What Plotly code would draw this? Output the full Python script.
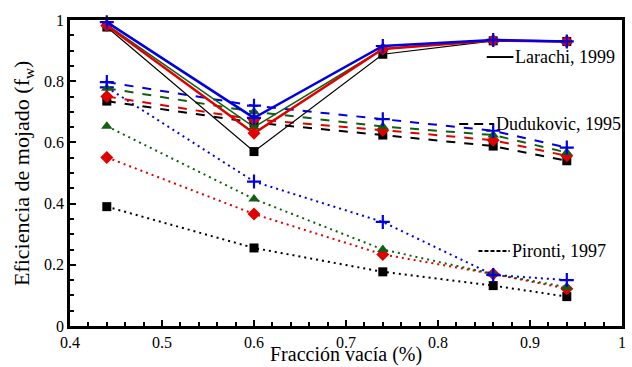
import plotly.graph_objects as go

x_vals = [0.44, 0.6, 0.74, 0.86, 0.94]

# Larachi, 1999 (solid)
lar_black = [0.977, 0.57, 0.888, 0.932, 0.93]
lar_red = [0.982, 0.63, 0.905, 0.933, 0.93]
lar_green = [0.985, 0.65, 0.905, 0.933, 0.93]
lar_blue = [0.993, 0.68, 0.915, 0.935, 0.93]

# Dudukovic, 1995 (dashed)
dud_black = [0.735, 0.665, 0.624, 0.588, 0.54]
dud_red = [0.75, 0.675, 0.64, 0.607, 0.556]
dud_green = [0.777, 0.70, 0.652, 0.624, 0.567]
dud_blue = [0.797, 0.72, 0.676, 0.638, 0.583]

# Pironti, 1997 (dotted)
pir_black = [0.39, 0.255, 0.177, 0.132, 0.096]
pir_red = [0.551, 0.366, 0.234, 0.17, 0.122]
pir_green = [0.653, 0.415, 0.25, 0.17, 0.127]
pir_blue = [0.78, 0.472, 0.34, 0.167, 0.15]

legend_labels = ["Larachi, 1999", "Dudukovic, 1995", "Pironti, 1997"]
legend_y = [0.879, 0.66, 0.245]

BLACK = "#000000"
RED = "#e00000"
GREEN = "#106010"
BLUE = "#0000e0"

styles = {
    "black": (BLACK, "square", 9),
    "red": (RED, "diamond", 10),
    "green": (GREEN, "triangle-up", 10),
    "blue": (BLUE, "cross-thin", 10),
}

fig = go.Figure()

def add(y, key, dash, width):
    color, sym, size = styles[key]
    marker = dict(symbol=sym, size=size, color=color)
    if sym == "cross-thin":
        marker["line"] = dict(color=color, width=2.2)
    fig.add_trace(go.Scatter(
        x=x_vals, y=y, mode="lines+markers",
        line=dict(color=color, dash=dash, width=width),
        marker=marker, showlegend=False, cliponaxis=False,
    ))

for y, k in [(pir_black, "black"), (pir_red, "red"), (pir_green, "green"), (pir_blue, "blue")]:
    add(y, k, "2px,4px", 2)
for y, k in [(dud_black, "black"), (dud_red, "red"), (dud_green, "green"), (dud_blue, "blue")]:
    add(y, k, "9px,9px", 2)
add(lar_black, "black", "solid", 1.2)
add(lar_green, "green", "solid", 1.5)
add(lar_red, "red", "solid", 2.5)
add(lar_blue, "blue", "solid", 2.5)

serif = "Times New Roman, Liberation Serif, DejaVu Serif, serif"

# legend-like labels
leg_dash = ["solid", "9px,6px", "4px,2px"]
leg_x0 = [0.853, 0.823, 0.844]
leg_len = [0.029, 0.038, 0.034]
for lab, ly, d, x0, ln in zip(legend_labels, legend_y, leg_dash, leg_x0, leg_len):
    fig.add_shape(type="line", xref="x", yref="y", x0=x0, x1=x0 + ln,
                  y0=ly, y1=ly, line=dict(color=BLACK, width=2, dash=d))
    fig.add_annotation(x=x0 + ln, y=ly, xref="x", yref="y",
                       text=lab, showarrow=False, xanchor="left", yanchor="middle",
                       font=dict(family=serif, size=18, color=BLACK))

fig.add_annotation(x=0.5, y=-0.05, xref="paper", yref="paper", text="Fracción vacía (%)",
                   showarrow=False, xanchor="center", yanchor="top",
                   font=dict(family=serif, size=20, color=BLACK))
fig.add_annotation(x=-0.085, y=0.5, xref="paper", yref="paper", text="Eficiencia de mojado (f<sub>w</sub>)",
                   showarrow=False, xanchor="center", yanchor="middle", textangle=-90,
                   font=dict(family=serif, size=22, color=BLACK))

fig.update_layout(
    width=632, height=367,
    margin=dict(l=70, r=6, t=20, b=41),
    plot_bgcolor="white", paper_bgcolor="white",
    font=dict(family=serif, size=16, color=BLACK),
)
fig.update_xaxes(
    range=[0.4, 1], dtick=0.1, tick0=0, ticks="inside", ticklen=6, tickwidth=1.5,
    minor=dict(dtick=0.02, ticks="inside", ticklen=4, tickwidth=1.5, tickcolor=BLACK),
    showline=True, linewidth=2.5, linecolor=BLACK, mirror=True, showgrid=False, zeroline=False,
    tickfont=dict(family=serif, size=16), tickcolor=BLACK,
)
fig.update_yaxes(
    range=[0, 1], dtick=0.2, tick0=0, ticks="inside", ticklen=6, tickwidth=1.5,
    minor=dict(dtick=0.05, ticks="inside", ticklen=4, tickwidth=1.5, tickcolor=BLACK),
    showline=True, linewidth=2.5, linecolor=BLACK, mirror=True, showgrid=False, zeroline=False,
    tickfont=dict(family=serif, size=16), tickcolor=BLACK,
)

fig.write_html("out.html", config={"displayModeBar": False},
               post_script="document.body.style.margin='0px';")
